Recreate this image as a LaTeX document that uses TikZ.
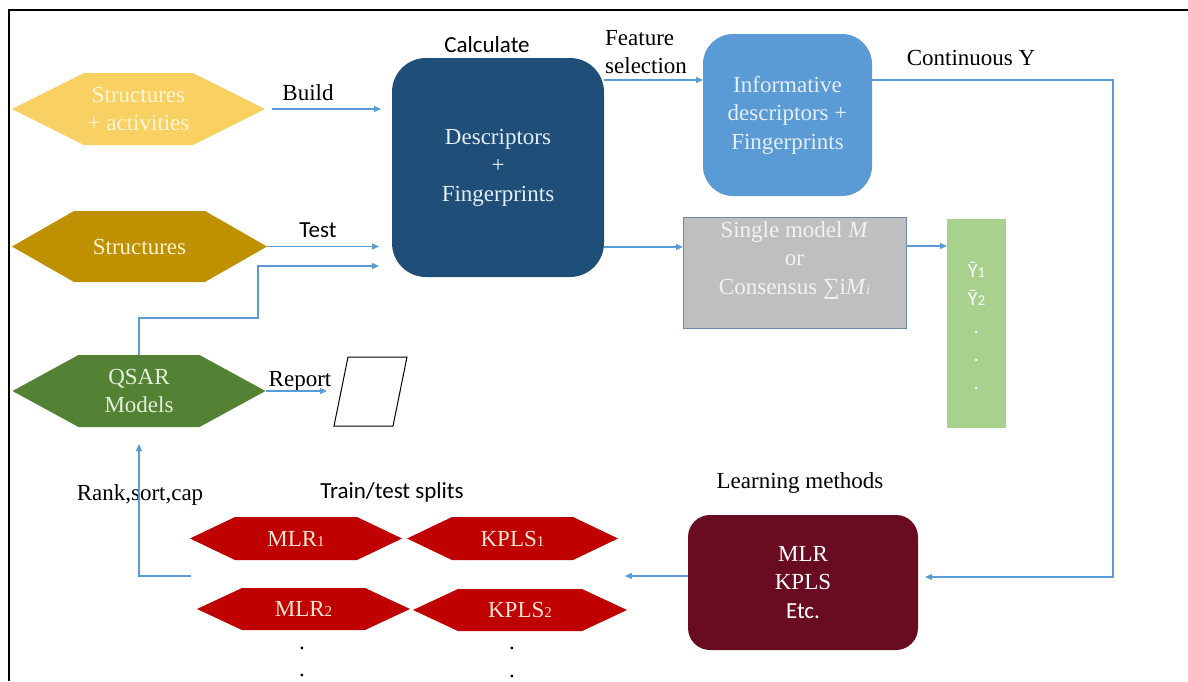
\documentclass[tikz,border=0pt]{standalone}
\usepackage{fontspec}
\setmainfont{Liberation Serif}
\newfontfamily\calfont{Carlito}
\usetikzlibrary{arrows.meta}
\definecolor{yel}{HTML}{F8D162}
\definecolor{yeltxt}{HTML}{FFF6DA}
\definecolor{gold}{HTML}{BF9000}
\definecolor{goldtxt}{HTML}{FFF2CC}
\definecolor{qgreen}{HTML}{548235}
\definecolor{qtxt}{HTML}{E2F0D9}
\definecolor{dblue}{HTML}{1F4E79}
\definecolor{mblue}{HTML}{5B9BD5}
\definecolor{btxt}{HTML}{E4EEF8}
\definecolor{gbox}{HTML}{BFBFBF}
\definecolor{gborder}{HTML}{7088A8}
\definecolor{gtxt}{HTML}{F2F2F2}
\definecolor{lgreen}{HTML}{A9D18E}
\definecolor{red1}{HTML}{C00000}
\definecolor{redtxt}{HTML}{FBE5D6}
\definecolor{maroon}{HTML}{6A0C21}
\definecolor{cline}{HTML}{5B9BD5}
\tikzset{
  txt/.style={font=\fontsize{23}{28.5}\selectfont, inner sep=0pt},
  ctxt/.style={font=\calfont\fontsize{23}{28.5}\selectfont, inner sep=0pt},
  conn/.style={draw=cline, line width=1.1pt, -{Triangle[length=7pt,width=6pt]}},
  hexa/.style n args={4}{inner sep=0pt, outer sep=0pt, minimum width=#2, minimum height=#3, align=center,
    path picture={\fill[#1] (path picture bounding box.west) -- ([xshift=#4]path picture bounding box.north west)
      -- ([xshift=-#4]path picture bounding box.north east) -- (path picture bounding box.east)
      -- ([xshift=-#4]path picture bounding box.south east) -- ([xshift=#4]path picture bounding box.south west) -- cycle;}},
  rbox/.style={inner sep=0pt, outer sep=0pt, align=center, txt}
}
\begin{document}
\begin{tikzpicture}[x=1pt,y=-1pt]
\useasboundingbox (0,0) rectangle (1188,681);
% frame
\draw[line width=2.5pt] (9,681) -- (9,10) -- (1188,10);

% hexagons left
\node[hexa={yel}{253}{72}{72}, txt, text=yeltxt] (s1) at (138.5,109) {Structures\\+ activities};
\node[hexa={gold}{255}{71}{62}, txt, text=goldtxt] (s2) at (139.5,246.5) {Structures};
\node[hexa={qgreen}{253}{72}{66}, txt, text=qtxt] (qsar) at (139,391) {QSAR\\Models};

% main boxes
\node[rbox, fill=dblue, text=btxt, minimum width=212, minimum height=219, rounded corners=34pt] (desc) at (498,167.5) {Descriptors\\+\\Fingerprints};
\node[rbox, fill=mblue, text=btxt, minimum width=169, minimum height=162, rounded corners=30pt] (info) at (787.5,115) {Informative\\descriptors +\\Fingerprints};
\node[rbox, fill=gbox, draw=gborder, line width=0.8pt, minimum width=223, minimum height=111] (gray) at (794.5,272.5) {};
\node[txt, text=gtxt, align=center] (gtext) at (794.5,260) {Single model \textit{M}\\or\\Consensus ∑i\textit{M}{\fontsize{14}{14}\selectfont\textit{i}}};
\node[rbox, fill=lgreen, minimum width=59, minimum height=209] (green) at (976.5,323.5) {};
\node[font=\calfont\fontsize{20}{27.8}\selectfont, text=white, align=center, inner sep=0pt] (ytext) at (976.5,326) {Ȳ{\fontsize{15}{15}\selectfont 1}\\Ȳ{\fontsize{15}{15}\selectfont 2}\\.\\.\\.};
\node[rbox, fill=maroon, text=white, minimum width=230, minimum height=135, rounded corners=22pt] (learn) at (803,582.5) {MLR\\KPLS\\{\calfont Etc.}};

% report parallelogram
\node[inner sep=0pt, outer sep=0pt, minimum width=73, minimum height=69] (rep) at (370.5,391.5) {};
\draw[black, line width=1pt] ([xshift=14pt]rep.north west) -- (rep.north east) -- ([xshift=-14pt]rep.south east) -- (rep.south west) -- cycle;

% red hexagons
\node[hexa={red1}{212}{43}{45}, txt, text=redtxt] (mlr1) at (296,538.5) {MLR{\fontsize{15}{15}\selectfont 1}};
\node[hexa={red1}{211}{43}{45}, txt, text=redtxt] (kpls1) at (512.5,538.5) {KPLS{\fontsize{15}{15}\selectfont 1}};
\node[hexa={red1}{213}{42}{45}, txt, text=redtxt] (mlr2) at (303.5,609) {MLR{\fontsize{15}{15}\selectfont 2}};
\node[hexa={red1}{214}{42}{45}, txt, text=redtxt] (kpls2) at (520,610) {KPLS{\fontsize{15}{15}\selectfont 2}};
\node[txt] (d1) at (302,648) {.};
\node[txt] (d2) at (302,675) {.};
\node[txt] (d3) at (512,648) {.};
\node[txt] (d4) at (512,676) {.};

% labels
\node[txt] (lbuild) at (308,93) {Build};
\node[ctxt] (ltest) at (318,230) {Test};
\node[ctxt] (lcalc) at (487,45) {Calculate};
\node[txt, align=left, anchor=west] (lfeat) at (605,52) {Feature\\selection};
\node[txt] (lcont) at (971,58) {Continuous Y};
\node[txt] (lrep) at (300,381) {Report};
\node[txt] (lrank) at (140,495) {Rank,sort,cap};
\node[ctxt] (ltrain) at (392,492) {Train/test splits};
\node[txt] (llearn) at (800,483) {Learning methods};

% connectors
\coordinate (j1) at (258,318);
\coordinate (t3) at (392,266);
\coordinate (cr1) at (1113,80);
\coordinate (cr2) at (1113,577);
\coordinate (splitR) at (625,576);
\coordinate (splitL) at (191,576);
\draw[conn, shorten <=7pt, shorten >=11pt] (s1.east) -- (s1.east -| desc.west);
\draw[conn, shorten >=13pt] (s2.east) -- (s2.east -| desc.west);
\draw[conn, shorten >=13pt] (qsar.north) |- (j1) |- (t3);
\draw[conn] (desc.east |- 0,80) -- (info.west |- 0,80);
\draw[conn] (desc.east |- 0,247) -- (gray.west |- 0,247);
\draw[conn] (gray.east |- 0,246) -- (green.west |- 0,246);
\draw[conn, shorten >=7pt] (info.east |- cr1) -- (cr1) -- (cr2) -- (learn.east |- cr2);
\draw[conn] (learn.west |- splitR) -- (splitR);
\draw[conn, shorten >=17pt] (splitL) -| (qsar.south);
\draw[conn, shorten >=7pt] (qsar.east) -- (rep.west |- qsar.east);
\end{tikzpicture}
\end{document}
